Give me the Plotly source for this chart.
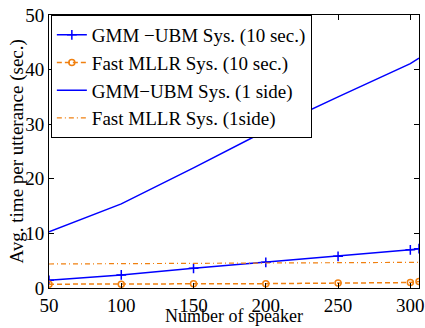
import plotly.graph_objects as go

speakers = [50, 100, 150, 200, 250, 300, 306]
gmm_10sec = [1.4, 2.4, 3.6, 4.7, 5.8, 7.0, 7.2]
mllr_10sec = [0.7, 0.7, 0.8, 0.8, 0.9, 1.0, 1.2]
gmm_1side = [10.3, 15.4, 22.0, 28.8, 35.0, 41.1, 42.1]
mllr_1side = [4.4, 4.45, 4.5, 4.55, 4.6, 4.65, 4.7]

x_ticks = [50, 100, 150, 200, 250, 300]
y_ticks = [0, 10, 20, 30, 40, 50]

blue = "#0000ff"
orange = "#f08010"
font = "Liberation Serif"

fig = go.Figure()
fig.add_trace(go.Scatter(x=speakers, y=gmm_10sec, mode="lines+markers",
                         name="GMM −UBM Sys. (10 sec.)",
                         line=dict(color=blue, width=1.5),
                         marker=dict(symbol="cross-thin", size=7, line=dict(color=blue, width=1.5))))
fig.add_trace(go.Scatter(x=speakers, y=mllr_10sec, mode="lines+markers",
                         name="Fast MLLR Sys. (10 sec.)",
                         line=dict(color=orange, width=1.5, dash="5px,3px"),
                         marker=dict(symbol="circle-open", size=6, line=dict(color=orange, width=1.5))))
fig.add_trace(go.Scatter(x=speakers, y=gmm_1side, mode="lines",
                         name="GMM−UBM Sys. (1 side)",
                         line=dict(color=blue, width=1.5)))
fig.add_trace(go.Scatter(x=speakers, y=mllr_1side, mode="lines",
                         name="Fast MLLR Sys. (1side)",
                         line=dict(color=orange, width=1.2, dash="5px,3px,1px,3px")))

axis_common = dict(showline=True, linecolor="black", linewidth=1, mirror="ticks",
                   ticks="inside", ticklen=5, tickcolor="black", showgrid=False,
                   zeroline=False, automargin=False,
                   tickfont=dict(family=font, size=19, color="black"))

fig.update_layout(
    width=425, height=328,
    margin=dict(l=49, r=6, t=15, b=40),
    paper_bgcolor="white", plot_bgcolor="white",
    font=dict(family=font, size=18, color="black"),
    xaxis=dict(range=[50, 306], tickvals=x_ticks, **axis_common),
    yaxis=dict(range=[0, 50], tickvals=y_ticks, **axis_common),
    legend=dict(x=0.005, y=1, xanchor="left", yanchor="top", bgcolor="white",
                bordercolor="black", borderwidth=1, font=dict(family=font, size=19),
                itemwidth=30, tracegroupgap=0),
    annotations=[
        dict(text="Number of speaker", xref="paper", yref="paper",
             x=0.5, y=0, yshift=-40, xanchor="center", yanchor="bottom",
             showarrow=False, font=dict(family=font, size=18, color="black")),
        dict(text="Avg. time per utterance (sec.)", xref="paper", yref="paper",
             x=0, y=0.5, xshift=-33, xanchor="center", yanchor="middle", textangle=-90,
             showarrow=False, font=dict(family=font, size=19, color="black")),
    ],
    showlegend=True,
)

fig.write_html("out.html", config={"displayModeBar": False},
               post_script="document.body.style.margin='0';")
